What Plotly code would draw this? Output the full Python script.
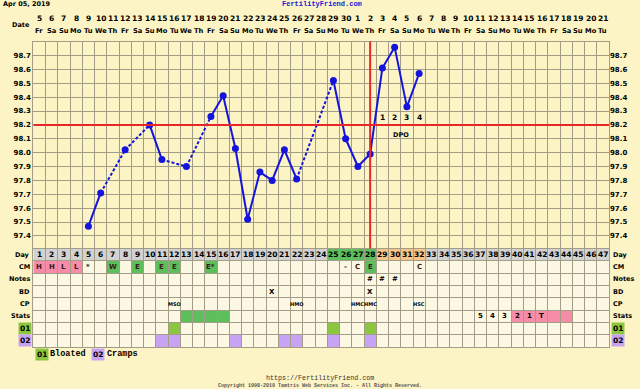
import plotly.graph_objects as go

# ---------------- data ----------------
days = list(range(1, 48))
dates = [5, 6, 7, 8, 9, 10, 11, 12, 13, 14, 15, 16, 17, 18, 19, 20, 21, 22, 23, 24, 25, 26, 27, 28, 29, 30,
         1, 2, 3, 4, 5, 6, 7, 8, 9, 10, 11, 12, 13, 14, 15, 16, 17, 18, 19, 20, 21]
weekdays = ["Fr", "Sa", "Su", "Mo", "Tu", "We", "Th"] * 6 + ["Fr", "Sa", "Su", "Mo", "Tu"]

temp_days = [5, 6, 8, 10, 11, 13, 15, 16, 17, 18, 19, 20, 21, 22, 25, 26, 27, 28, 29, 30, 31, 32]
temps = [97.47, 97.71, 98.02, 98.20, 97.95, 97.90, 98.26, 98.41, 98.03, 97.52, 97.86, 97.80,
         98.02, 97.81, 98.52, 98.10, 97.90, 97.99, 98.61, 98.76, 98.33, 98.57]
temp_ticks = [98.7, 98.6, 98.5, 98.4, 98.3, 98.2, 98.1, 98.0, 97.9, 97.8, 97.7, 97.6, 97.5, 97.4]
coverline = 98.2
ovulation_day = 28
dpo_days = [29, 30, 31, 32]
dpo_labels = ["1", "2", "3", "4"]

row_names = ["Day", "CM", "Notes", "BD", "CP", "Stats", "01", "02"]
fertile_days = [25, 26, 27, 28]

cm_days = [1, 2, 3, 4, 5, 7, 9, 11, 12, 15, 26, 27, 28, 32]
cm_text = ["H", "H", "L", "L", "*", "W", "E", "E", "E", "E*", "-", "C", "E", "C"]
cm_pink = [1, 2, 3, 4]
cm_green = [7, 9, 11, 12, 15, 28]
notes_days = [28, 29, 30]
notes_text = ["#", "#", "#"]
bd_days = [20, 28]
bd_text = ["X", "X"]
cp_days = [12, 22, 27, 28, 32]
cp_text = ["MSO", "HMO", "HMC", "HMC", "HSC"]
stats_days = [37, 38, 39, 40, 41, 42]
stats_text = ["5", "4", "3", "2", "1", "T"]
stats_green = [13, 14, 15, 16]
stats_pink = [40, 41, 42, 43, 44]
bloated_days = [12, 25, 28]
cramps_days = [11, 12, 17, 21, 22, 25, 28]

# ---------------- styles ----------------
W, H = 640, 389
BG = "#fcf4c4"
CELL = "#fdf8e4"
GRID = "#a19d86"
GRAY = "#d2d2d2"
GREEN = "#5cbf5c"
PINK = "#f68ca8"
ORANGE = "#f8c487"
LIME = "#8cc63f"
PURPLE = "#c9a3f3"
BLUE = "#1414dc"
RED = "#e8262a"
FONT = "DejaVu Sans"
MONO = "Liberation Mono"

def py(p):
    return 1 - p / H

x_dom = [33.3 / W, 609 / W]
t_top, t_bot, tb_bot = 41.6, 248.5, 347.0
temp_lo = 98.8 - (t_bot - t_top) / 138.8

fig = go.Figure()

# temperature lines (solid for consecutive days, dashed for gaps)
sx, sy, dx, dy = [], [], [], []
for i in range(len(temp_days) - 1):
    seg_x = [temp_days[i], temp_days[i + 1], None]
    seg_y = [temps[i], temps[i + 1], None]
    if temp_days[i + 1] - temp_days[i] == 1:
        sx += seg_x; sy += seg_y
    else:
        dx += seg_x; dy += seg_y
fig.add_trace(go.Scatter(x=sx, y=sy, mode="lines", line=dict(color=BLUE, width=2),
                         hoverinfo="skip", showlegend=False))
fig.add_trace(go.Scatter(x=dx, y=dy, mode="lines", line=dict(color=BLUE, width=2, dash="3px,2px"),
                         hoverinfo="skip", showlegend=False))
fig.add_trace(go.Scatter(x=temp_days, y=temps, mode="markers",
                         marker=dict(color=BLUE, size=7), showlegend=False))
# invisible trace for right-hand temperature axis
fig.add_trace(go.Scatter(x=temp_days, y=temps, yaxis="y3", mode="markers",
                         marker=dict(opacity=0), hoverinfo="skip", showlegend=False))
# invisible trace for table axis
fig.add_trace(go.Scatter(x=days, y=[0] * len(days), yaxis="y2", mode="markers",
                         marker=dict(opacity=0), hoverinfo="skip", showlegend=False))

shapes = []
ann = []

def cell(d, r, color):
    shapes.append(dict(type="rect", xref="x", yref="y2", x0=d - 0.5, x1=d + 0.5,
                       y0=r - 0.5, y1=r + 0.5, fillcolor=color, line=dict(width=0), layer="below"))

# table background
shapes.append(dict(type="rect", xref="x", yref="y2", x0=0.5, x1=47.5, y0=-0.5, y1=7.5,
                   fillcolor=CELL, line=dict(width=0), layer="below"))
for d in days:
    if d in fertile_days:
        cell(d, 0, GREEN)
    elif d in dpo_days:
        cell(d, 0, ORANGE)
    else:
        cell(d, 0, GRAY)
for d in cm_pink:
    cell(d, 1, PINK)
for d in cm_green:
    cell(d, 1, GREEN)
for d in stats_green:
    cell(d, 5, GREEN)
for d in stats_pink:
    cell(d, 5, PINK)
for d in bloated_days:
    cell(d, 6, LIME)
for d in cramps_days:
    cell(d, 7, PURPLE)

# coverline and ovulation line
shapes.append(dict(type="line", xref="x", yref="y", x0=0.5, x1=47.5, y0=coverline, y1=coverline,
                   line=dict(color=RED, width=2)))
shapes.append(dict(type="line", xref="x", yref="y domain", x0=ovulation_day, x1=ovulation_day,
                   y0=0, y1=1, line=dict(color=RED, width=2)))

def txt(x, y, s, size=7, xref="x", yref="y2", color="black", xanchor="center", family=FONT,
        bold=True, bg=None):
    a = dict(x=x, y=y, xref=xref, yref=yref, text=("<b>%s</b>" % s) if bold else s,
             showarrow=False, xanchor=xanchor, yanchor="middle",
             font=dict(family=family, size=size, color=color))
    if bg:
        a["bgcolor"] = bg
        a["borderpad"] = 1
    ann.append(a)

# header dates
for d, dt, wd in zip(days, dates, weekdays):
    txt(d, py(18.5), str(dt), size=7.5, yref="paper")
    txt(d, py(31), wd, size=6.7, yref="paper")
txt(32 / W, py(25), "Date", size=6.5, xref="paper", yref="paper", xanchor="right")
txt(1 / W, py(4), "Apr 05, 2019", size=6.5, xref="paper", yref="paper", xanchor="left")
txt(322 / W, py(4), "FertilityFriend.com", size=7, xref="paper", yref="paper",
    color="#1a1ad8", family=MONO)

# DPO labels
for d, s in zip(dpo_days, dpo_labels):
    txt(d, 98.25, s, size=7.5, yref="y")
txt(sum(dpo_days) / len(dpo_days), 98.13, "DPO", size=6.5, yref="y")

# table content
for d in days:
    txt(d, 0, str(d), size=7.5)
for d, s in zip(cm_days, cm_text):
    txt(d, 1, s, size=7, color="#3a1a1a")
for d, s in zip(notes_days, notes_text):
    txt(d, 2, s, size=7)
for d, s in zip(bd_days, bd_text):
    txt(d, 3, s, size=7)
for d, s in zip(cp_days, cp_text):
    txt(d, 4, s, size=5)
for d, s in zip(stats_days, stats_text):
    txt(d, 5, s, size=7)

# row labels
for r, name in enumerate(row_names):
    bg = LIME if name == "01" else (PURPLE if name == "02" else None)
    sz = 7.5 if name in ("01", "02") else 6.5
    txt(32 / W, r, name, size=sz, xref="paper", xanchor="right", bg=bg)
    txt(611 / W, r, name, size=sz, xref="paper", xanchor="left", bg=bg)

# legend
txt(35 / W, py(354), "01", size=7.5, xref="paper", yref="paper", xanchor="left", bg=LIME)
txt(48 / W, py(354), "Bloated", size=8.5, xref="paper", yref="paper", xanchor="left", family=MONO)
txt(91 / W, py(354), "02", size=7.5, xref="paper", yref="paper", xanchor="left", bg=PURPLE)
txt(105 / W, py(354), "Cramps", size=8.5, xref="paper", yref="paper", xanchor="left", family=MONO)

# footer
txt(0.5, py(378), "https://FertilityFriend.com", size=6.7, xref="paper", yref="paper",
    family=MONO, bold=False, color="#333333")
txt(0.5, py(386), "Copyright 1998-2019 Tamtris Web Services Inc. - All Rights Reserved.",
    size=5, xref="paper", yref="paper", family=MONO, bold=True, color="#555555")

grid_x = [d - 0.5 for d in days] + [47.5]
tick_font = dict(family=FONT, size=7, color="black", weight="bold")

fig.update_layout(
    width=W, height=H, margin=dict(l=0, r=0, t=0, b=0),
    paper_bgcolor=BG, plot_bgcolor=BG,
    shapes=shapes, annotations=ann, showlegend=False,
    xaxis=dict(domain=x_dom, range=[0.5, 47.5], anchor="y2", tickvals=grid_x,
               showticklabels=False, ticks="", showgrid=True, gridcolor=GRID, gridwidth=1,
               zeroline=False, showline=True, mirror="all", linecolor=GRID, linewidth=1),
    yaxis=dict(domain=[py(t_bot), py(t_top)], range=[temp_lo, 98.8], anchor="x",
               tickvals=temp_ticks + [98.8], ticktext=["%.1f" % v for v in temp_ticks] + [""],
               tickfont=tick_font, ticks="", showgrid=True, gridcolor=GRID, gridwidth=1,
               zeroline=False, showline=True, mirror=True, linecolor=GRID),
    yaxis3=dict(overlaying="y", side="right", anchor="x", range=[temp_lo, 98.8],
                tickvals=temp_ticks, ticktext=["%.1f" % v for v in temp_ticks],
                tickfont=tick_font, ticks="", showgrid=False, zeroline=False),
    yaxis2=dict(domain=[py(tb_bot), py(t_bot)], range=[7.5, -0.5], anchor="x",
                tickvals=[r - 0.5 for r in range(9)], showticklabels=False, ticks="",
                showgrid=True, gridcolor=GRID, gridwidth=1, zeroline=False,
                showline=True, mirror=True, linecolor=GRID),
)

fig.write_html("out.html", config={"displayModeBar": False},
               post_script="document.body.style.margin='0';document.body.style.overflow='hidden';")
